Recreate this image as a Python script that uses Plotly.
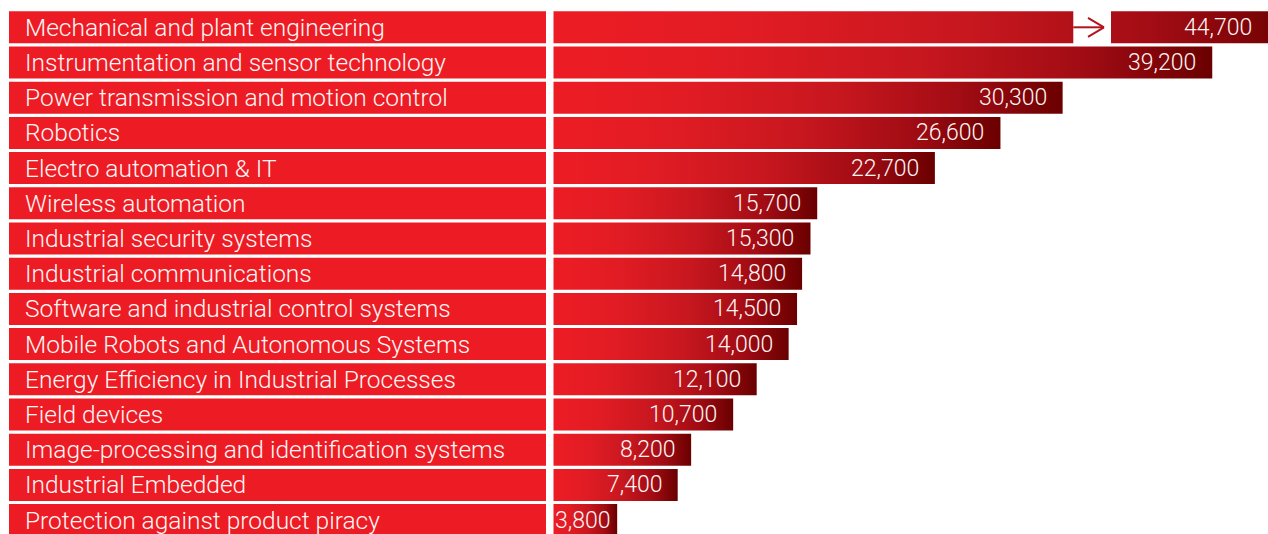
import plotly.graph_objects as go

categories = [
    "Mechanical and plant engineering",
    "Instrumentation and sensor technology",
    "Power transmission and motion control",
    "Robotics",
    "Electro automation & IT",
    "Wireless automation",
    "Industrial security systems",
    "Industrial communications",
    "Software and industrial control systems",
    "Mobile Robots and Autonomous Systems",
    "Energy Efficiency in Industrial Processes",
    "Field devices",
    "Image-processing and identification systems",
    "Industrial Embedded",
    "Protection against product piracy",
]
values = [44700, 39200, 30300, 26600, 22700, 15700, 15300, 14800,
          14500, 14000, 12100, 10700, 8200, 7400, 3800]

# ---- layout constants (pixels) ----
W, H = 1268, 534
PX_PER_UNIT = 0.01681
X0_PX = 553.3
ROW0 = 27.3
PITCH = 35.2
BAR_PX = 32
LABEL_X0, LABEL_X1 = 9, 546
TEXT_X = 23

RED = "#ED1C24"
GRAD = [[0.0, "#ED1C24"], [0.25, "#E21C24"], [0.55, "#C8171F"],
        [0.8, "#A20C14"], [1.0, "#6A0000"]]
FONT = "Roboto"

xmax = (W - X0_PX) / PX_PER_UNIT
y_top = -ROW0 / PITCH
y_bot = (H - ROW0) / PITCH
half = BAR_PX / PITCH / 2

fig = go.Figure()
shapes = []
annotations = []

for i, (cat, v) in enumerate(zip(categories, values)):
    fig.add_trace(go.Scatter(
        x=[0, v, v, 0, 0],
        y=[i - half, i - half, i + half, i + half, i - half],
        mode="lines", line=dict(width=0), fill="toself",
        fillgradient=dict(type="horizontal", colorscale=GRAD),
        hoverinfo="skip", showlegend=False,
    ))
    # label box
    shapes.append(dict(type="rect", xref="paper", yref="y",
                       x0=LABEL_X0 / W, x1=LABEL_X1 / W,
                       y0=i - half, y1=i + half,
                       fillcolor=RED, line=dict(width=0), layer="below"))
    annotations.append(dict(text=cat, xref="paper", yref="y", x=TEXT_X / W, y=i,
                            xanchor="left", yanchor="middle", showarrow=False,
                            font=dict(family=FONT, size=24.5, weight=300, color="#FFF6F6")))
    label = f"{v:,}"
    if v * PX_PER_UNIT < 80:
        annotations.append(dict(text=label, xref="x", yref="y", x=0, y=i,
                                xanchor="left", yanchor="middle", xshift=0,
                                showarrow=False,
                                font=dict(family=FONT, size=23, weight=300, color="#FFF6F6")))
    else:
        annotations.append(dict(text=label, xref="x", yref="y", x=min(v, xmax), y=i,
                                xanchor="right", yanchor="middle", xshift=-14,
                                showarrow=False,
                                font=dict(family=FONT, size=23, weight=300, color="#FFF6F6")))

# axis break on the first (too long) bar
gap0 = (1073.3 - X0_PX) / PX_PER_UNIT
gap1 = (1111.0 - X0_PX) / PX_PER_UNIT
tip = (1104.0 - X0_PX) / PX_PER_UNIT
arm_dx = 16 / PX_PER_UNIT
arm_dy = 9.5 / PITCH
shapes.append(dict(type="rect", xref="x", yref="y", x0=gap0, x1=gap1,
                   y0=-half - 0.02, y1=half + 0.02, fillcolor="white",
                   line=dict(width=0), layer="above"))
ARROW = "#B3141C"
for (xa, ya, xb, yb) in [(gap0, 0, tip, 0),
                         (tip - arm_dx, -arm_dy, tip, 0),
                         (tip - arm_dx, arm_dy, tip, 0)]:
    shapes.append(dict(type="line", xref="x", yref="y", x0=xa, y0=ya, x1=xb, y1=yb,
                       line=dict(color=ARROW, width=2), layer="above"))

fig.update_layout(
    width=W, height=H,
    margin=dict(l=0, r=0, t=0, b=0, pad=0),
    paper_bgcolor="white", plot_bgcolor="white",
    xaxis=dict(visible=False, range=[0, xmax], domain=[X0_PX / W, 1], fixedrange=True),
    yaxis=dict(visible=False, range=[y_bot, y_top], domain=[0, 1], fixedrange=True),
    shapes=shapes, annotations=annotations, showlegend=False,
)

fig.write_html("out.html")
